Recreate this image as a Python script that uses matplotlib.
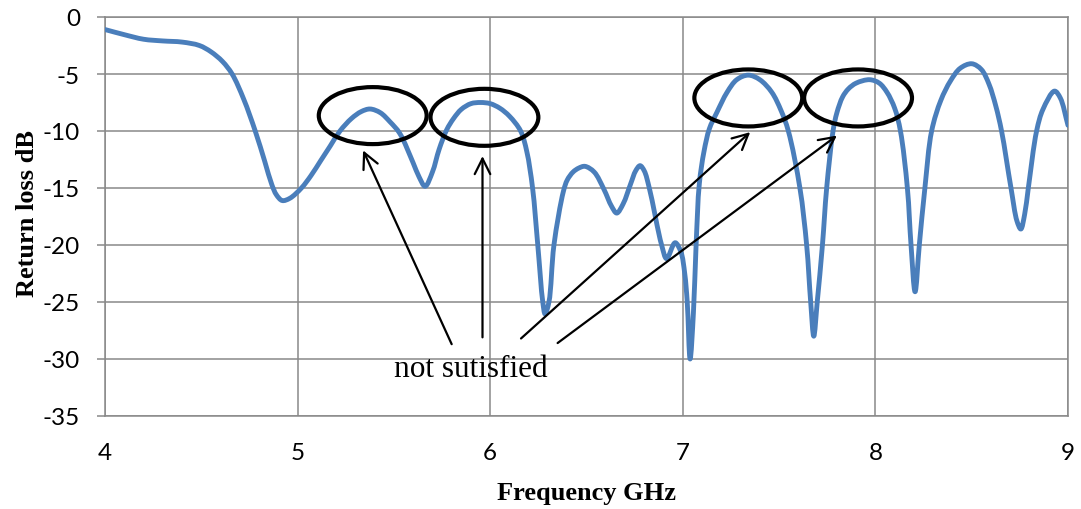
import math
import matplotlib
matplotlib.use("Agg")
import matplotlib.pyplot as plt
from matplotlib.patches import Ellipse, PathPatch
from matplotlib.path import Path

# Measured return loss (S11) of the antenna
freq_ghz = [4.00, 4.10, 4.20, 4.30, 4.40, 4.49, 4.55, 4.61, 4.66, 4.72,
            4.78, 4.83, 4.866, 4.89, 4.92, 4.96, 5.02, 5.07, 5.12, 5.17,
            5.22, 5.28, 5.33, 5.376, 5.43, 5.48, 5.53, 5.60, 5.63, 5.662,
            5.70, 5.735, 5.774, 5.81, 5.85, 5.90, 5.95, 6.00, 6.05, 6.10,
            6.158, 6.19, 6.22, 6.247, 6.273, 6.285, 6.305, 6.331, 6.38, 6.40,
            6.43, 6.46, 6.492, 6.54, 6.59, 6.63, 6.657, 6.69, 6.73, 6.755,
            6.778, 6.80, 6.826, 6.89, 6.916, 6.96, 6.99, 7.01, 7.023, 7.038,
            7.055, 7.069, 7.086, 7.11, 7.138, 7.176, 7.23, 7.28, 7.34, 7.40,
            7.462, 7.51, 7.548, 7.608, 7.643, 7.664, 7.68, 7.698, 7.725, 7.747,
            7.78, 7.80, 7.83, 7.86, 7.90, 7.97, 8.02, 8.06, 8.10, 8.13,
            8.166, 8.185, 8.206, 8.228, 8.257, 8.292, 8.34, 8.39, 8.44, 8.50,
            8.55, 8.59, 8.625, 8.655, 8.704, 8.735, 8.755, 8.775, 8.794, 8.837,
            8.87, 8.93, 8.96, 9.00]
return_loss_db = [-1.1, -1.55, -1.95, -2.1, -2.2, -2.5, -3.05, -3.9, -5.0, -7.2,
                  -10.0, -12.7, -14.7, -15.6, -16.1, -15.9, -15.0, -13.9, -12.6, -11.3,
                  -10.0, -8.9, -8.3, -8.07, -8.4, -9.2, -10.2, -12.8, -14.0, -14.85,
                  -13.6, -11.6, -9.9, -8.9, -8.1, -7.6, -7.5, -7.6, -8.0, -8.7,
                  -10.0, -11.8, -15.0, -20.0, -25.0, -26.05, -25.0, -20.0, -15.3, -14.3,
                  -13.6, -13.25, -13.1, -13.6, -15.1, -16.6, -17.2, -16.4, -14.6, -13.5,
                  -13.04, -13.5, -15.0, -20.0, -21.2, -19.8, -20.6, -22.5, -25.0, -30.0,
                  -26.0, -20.0, -14.6, -11.8, -9.8, -8.4, -6.6, -5.5, -5.1, -5.5,
                  -6.6, -8.2, -10.0, -15.0, -20.0, -25.0, -28.0, -25.0, -20.0, -15.0,
                  -10.0, -8.4, -7.0, -6.3, -5.8, -5.5, -5.8, -6.6, -8.0, -10.0,
                  -15.0, -20.0, -24.1, -20.0, -15.0, -10.0, -7.3, -5.6, -4.5, -4.1,
                  -4.6, -5.9, -7.8, -10.0, -15.0, -17.9, -18.6, -17.3, -15.0, -10.0,
                  -8.1, -6.5, -7.1, -9.5]

x_ticks = [4, 5, 6, 7, 8, 9]
y_ticks = [0, -5, -10, -15, -20, -25, -30, -35]

# Peaks that stay above the -10 dB limit: (centre freq, centre dB)
marked_centres = [(5.39, -8.65), (5.97, -8.8), (7.34, -7.1), (7.91, -7.1)]
note_text = "not sutisfied"

grid_grey = "#898989"
curve_blue = "#4A7EBB"


def smoothed_path(xs, ys, sx=192.6, sy=11.4, alpha=0.5):
    """Smoothed line through every sample: centripetal Catmull-Rom, emitted as Bezier curves.

    Distances are measured with the axis scale factors (sx, sy) so the
    smoothing behaves the same along both directions on screen.
    """
    pts = [(x * sx, y * sy) for x, y in zip(xs, ys)]
    n = len(pts)
    first = (2 * pts[0][0] - pts[1][0], 2 * pts[0][1] - pts[1][1])
    last = (2 * pts[-1][0] - pts[-2][0], 2 * pts[-1][1] - pts[-2][1])
    ext = [first] + pts + [last]

    def knot(a, b):
        return max(math.hypot(b[0] - a[0], b[1] - a[1]) ** alpha, 1e-9)

    verts = [pts[0]]
    codes = [Path.MOVETO]
    for i in range(1, n):
        p0, p1, p2, p3 = ext[i - 1], ext[i], ext[i + 1], ext[i + 2]
        d1, d2, d3 = knot(p0, p1), knot(p1, p2), knot(p2, p3)
        b1 = tuple((d1 * d1 * p2[k] - d2 * d2 * p0[k]
                    + (2 * d1 * d1 + 3 * d1 * d2 + d2 * d2) * p1[k])
                   / (3 * d1 * (d1 + d2)) for k in range(2))
        b2 = tuple((d3 * d3 * p1[k] - d2 * d2 * p3[k]
                    + (2 * d3 * d3 + 3 * d3 * d2 + d2 * d2) * p2[k])
                   / (3 * d3 * (d3 + d2)) for k in range(2))
        verts += [b1, b2, p2]
        codes += [Path.CURVE4] * 3
    verts = [(vx / sx, vy / sy) for vx, vy in verts]
    return Path(verts, codes)


fig = plt.figure(figsize=(10.81, 5.10), dpi=100)
ax = fig.add_axes([105 / 1081, 1 - 417 / 510, (1068 - 105) / 1081, (417 - 18) / 510])

ax.add_patch(PathPatch(smoothed_path(freq_ghz, return_loss_db), fill=False,
                       edgecolor=curve_blue, lw=3.5, joinstyle="round",
                       capstyle="round", zorder=3))

ax.set_xlim(4, 9)
ax.set_ylim(-35, 0)
ax.set_xticks(x_ticks)
ax.set_yticks(y_ticks)
ax.set_xticklabels([str(v) for v in x_ticks])
ax.set_yticklabels([str(v) for v in y_ticks])
ax.grid(True, color=grid_grey, lw=1.1)
ax.set_axisbelow(True)
for side in ("left", "bottom", "right", "top"):
    ax.spines[side].set_color(grid_grey)
    ax.spines[side].set_linewidth(1.1)
ax.tick_params(axis="y", direction="out", length=6, width=1.1, color=grid_grey,
               pad=12, labelsize=17.5)
ax.tick_params(axis="x", length=0, pad=19, labelsize=17.5)
for lab in ax.get_xticklabels() + ax.get_yticklabels():
    lab.set_fontfamily("Lato")

ax.set_xlabel("Frequency GHz", family="Liberation Serif", weight="bold",
              fontsize=19, labelpad=13)
ax.set_ylabel("Return loss dB", family="Liberation Serif", weight="bold",
              fontsize=19)
ax.yaxis.set_label_coords(-0.069, 0.51)

# Ellipses around the failing peaks
for fx, fy in marked_centres:
    ax.add_patch(Ellipse((fx, fy), width=0.56, height=5.0, fill=False,
                         edgecolor="black", lw=3.0, zorder=4))

# Arrows from the note to each ellipse
arrow_tails = [(5.80, -28.7), (5.96, -28.1), (6.16, -28.2), (6.35, -28.6)]
arrow_heads = [(5.34, -11.7), (5.96, -12.2), (7.35, -10.1), (7.80, -10.4)]
for (tx, ty), (hx, hy) in zip(arrow_tails, arrow_heads):
    ax.annotate("", xy=(hx, hy), xytext=(tx, ty),
                arrowprops=dict(arrowstyle="->", color="black", lw=1.6,
                                mutation_scale=28, shrinkA=0, shrinkB=0),
                zorder=5)

ax.text(5.50, -30.8, note_text, family="Liberation Serif", fontsize=22.5,
        ha="left", va="center", zorder=6)

fig.savefig("out.png", dpi=100)
